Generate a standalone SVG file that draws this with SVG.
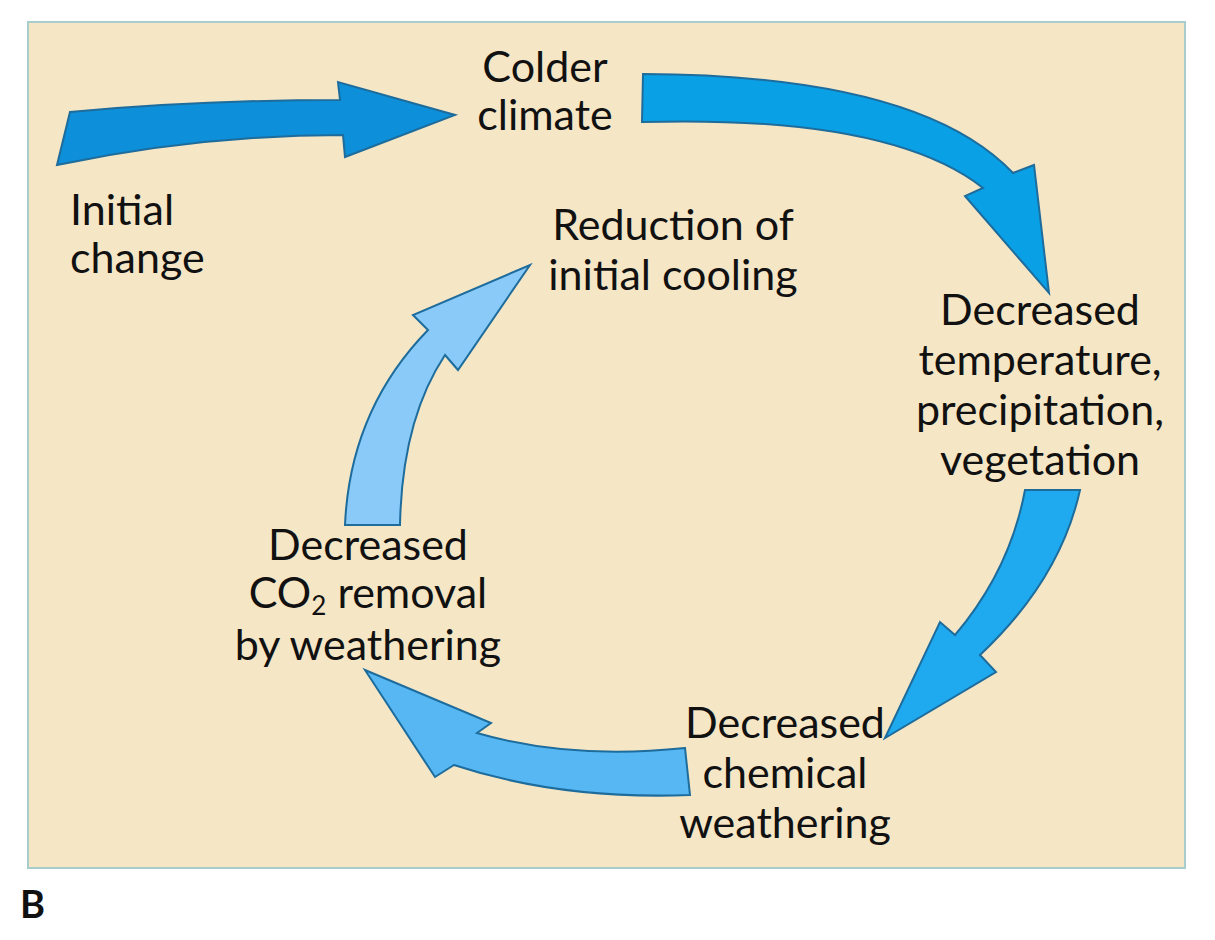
<svg xmlns="http://www.w3.org/2000/svg" width="1215" height="940" viewBox="0 0 1215 940">
<style>
.t{font-family:Lato,"Open Sans",sans-serif;font-size:43px;fill:#111}
.c{text-anchor:middle}
.a{stroke:#1d6c9c;stroke-width:2;stroke-linejoin:miter}
</style>
<rect width="1215" height="940" fill="#fff"/>
<rect x="28" y="22" width="1157" height="846" fill="#f5e6c6" stroke="#a9cccc" stroke-width="2"/>
<g id="connectors">
<path class="a" fill="#0d8fd9" d="M57,165 L70,112 Q200,100 340,100 L338,82 L455,115 L345,157 L343,135 Q200,135 57,165 Z"/>
<path class="a" fill="#0aa0e6" d="M643,74 Q920,75 1013,173 L1034,165 L1049,293 L965,196 L983,188 Q890,115 642,122 Z"/>
<path class="a" fill="#1fa9ef" d="M1025,490 L1080,490 Q1060,580 980,655 L996,672 L885,738 L940,622 L955,635 Q1010,570 1025,490 Z"/>
<path class="a" fill="#56b7f3" d="M365,670 L491,723 L477,733 Q570,760 685,748 L690,795 Q560,800 454,765 L435,777 Z"/>
<path class="a" fill="#8acaf8" d="M345,525 Q350,410 428,330 L413,315 L530,265 L458,370 L445,355 Q402,420 400,525 Z"/>
</g>
<g id="colder"><text class="t c" x="545" y="82">Colder</text><text class="t c" x="545" y="130">climate</text></g>
<g id="initial"><text class="t" x="70" y="225">Initial</text><text class="t" x="70" y="273">change</text></g>
<g id="reduction"><text class="t c" x="673" y="240">Reduction of</text><text class="t c" x="673" y="290">initial cooling</text></g>
<g id="decreased-temp"><text class="t c" x="1040" y="325">Decreased</text><text class="t c" x="1040" y="375">temperature,</text><text class="t c" x="1040" y="425">precipitation,</text><text class="t c" x="1040" y="475">vegetation</text></g>
<g id="decreased-chem"><text class="t c" x="785" y="738">Decreased</text><text class="t c" x="785" y="788">chemical</text><text class="t c" x="785" y="838">weathering</text></g>
<g id="decreased-co2"><text class="t c" x="368" y="560">Decreased</text><text class="t c" x="368" y="608">CO<tspan font-size="26" dy="7">2</tspan><tspan dy="-7"> removal</tspan></text><text class="t c" x="368" y="660">by weathering</text></g>
<text x="20" y="918" font-family="Lato,sans-serif" font-weight="bold" font-size="38" fill="#111">B</text>
</svg>
